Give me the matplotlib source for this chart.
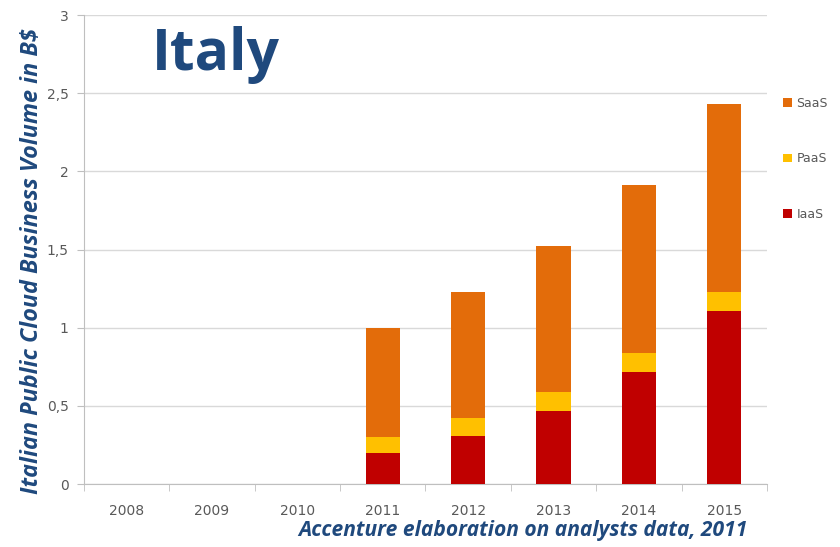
import matplotlib
matplotlib.use("Agg")
import matplotlib.pyplot as plt
import numpy as np

years = ["2008", "2009", "2010", "2011", "2012", "2013", "2014", "2015"]
iaas = [0, 0, 0, 0.20, 0.31, 0.47, 0.72, 1.11]
paas = [0, 0, 0, 0.10, 0.11, 0.12, 0.12, 0.12]
saas = [0, 0, 0, 0.70, 0.81, 0.93, 1.07, 1.20]
yticks = [0, 0.5, 1, 1.5, 2, 2.5, 3]
ytick_labels = ["0", "0,5", "1", "1,5", "2", "2,5", "3"]

c_iaas = "#C00000"
c_paas = "#FFC000"
c_saas = "#E36C0A"
navy = "#1F497D"
grey = "#595959"

fig = plt.figure(figsize=(8.4, 5.47), dpi=100)
ax = fig.add_axes([0.1, 0.115, 0.813, 0.8575])

x = np.arange(len(years))
w = 0.4
b1 = ax.bar(x, iaas, w, color=c_iaas, label="IaaS", zorder=3)
bottom2 = np.array(iaas)
b2 = ax.bar(x, paas, w, bottom=bottom2, color=c_paas, label="PaaS", zorder=3)
bottom3 = bottom2 + np.array(paas)
b3 = ax.bar(x, saas, w, bottom=bottom3, color=c_saas, label="SaaS", zorder=3)

ax.set_xlim(-0.5, len(years) - 0.5)
ax.set_ylim(0, 3)
ax.set_yticks(yticks)
ax.set_yticklabels(ytick_labels)
ax.set_xticks(x)
ax.set_xticklabels(years)
ax.set_xticks(np.arange(-0.5, len(years)), minor=True)
ax.tick_params(axis="x", which="major", length=0, pad=14, labelsize=10, labelcolor=grey)
ax.tick_params(axis="x", which="minor", length=5, color="#BFBFBF")
ax.tick_params(axis="y", length=5, color="#BFBFBF", labelsize=10, labelcolor=grey, pad=6)
ax.yaxis.grid(True, color="#D9D9D9", linewidth=1, zorder=0)
for s in ["top", "right"]:
    ax.spines[s].set_visible(False)
ax.spines["left"].set_color("#BFBFBF")
ax.spines["bottom"].set_color("#BFBFBF")

ylab = ax.set_ylabel("Italian Public Cloud Business Volume in B$", fontsize=16.8,
                     fontweight="bold", style="italic", color=navy, family="Open Sans")
ax.yaxis.set_label_coords(-0.058, 0.475)

leg = ax.legend(handles=[b3, b2, b1], labels=["SaaS", "PaaS", "IaaS"],
                loc="upper left", bbox_to_anchor=(1.005, 0.852), frameon=False,
                fontsize=9, labelcolor=grey, handlelength=0.7, handleheight=0.7,
                labelspacing=3.4, handletextpad=0.4, borderaxespad=0.6)

fig.text(0.181, 0.9, "Italy", fontsize=41, fontweight="bold", color=navy,
         family="Open Sans", ha="left", va="center")
fig.text(0.89, 0.03, "Accenture elaboration on analysts data, 2011", fontsize=15.1,
         fontweight="bold", style="italic", color=navy, family="Open Sans",
         ha="right", va="center")

fig.savefig("out.png", dpi=100)
